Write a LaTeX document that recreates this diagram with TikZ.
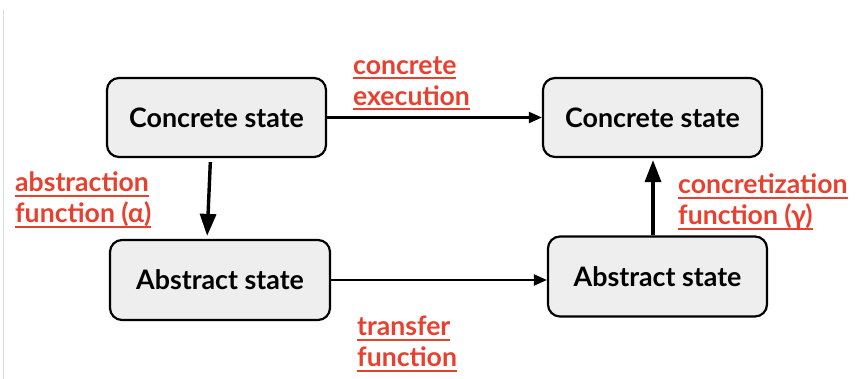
\documentclass[tikz,border=0pt]{standalone}
\usepackage{fontspec}
\setmainfont{Lato}
\usetikzlibrary{arrows.meta,calc}
\definecolor{labelred}{HTML}{E8402F}
\definecolor{boxfill}{HTML}{EEEEEE}
\definecolor{railgrey}{HTML}{DDDDDD}
% underline at a fixed depth below the baseline
\newcommand{\ulbar}[1]{\leavevmode\setbox0\hbox{#1}\rlap{\raisebox{-5pt}{\rule{\wd0}{2pt}}}\box0}
\tikzset{
  statebox/.style={draw=black, line width=2.2pt, fill=boxfill, rounded corners=12pt,
    minimum width=219pt, minimum height=79pt, inner sep=0pt,
    font=\fontsize{26.8}{30}\selectfont\bfseries},
  thinarrow/.style={line width=2.2pt, -{Triangle[length=13pt,width=11pt]}},
  thickarrow/.style={line width=3.4pt, -{Triangle[length=22pt,width=16pt]}},
  redlabel/.style={text=labelred, align=left, anchor=north west, inner sep=0pt,
    font=\fontsize{26.6}{31}\selectfont\bfseries}
}
\begin{document}
\begin{tikzpicture}[x=1pt,y=-1pt]
  \useasboundingbox (0,0) rectangle (861,379);
  % thin margin rule at the left edge
  \draw[railgrey, line width=1.5pt] (3.5,10) -- (3.5,379);

  % the four states
  \node[statebox] (c1) at (216.5,117.5) {Concrete state};
  \node[statebox] (c2) at (652.5,117.5) {Concrete state};
  \node[statebox, minimum width=220pt, minimum height=80pt] (a1) at (220,280) {Abstract state};
  \node[statebox, minimum height=80pt] (a2) at (657.5,276.5) {Abstract state};

  % transitions
  \draw[thinarrow] (c1.east) -- (c2.west);
  \draw[thinarrow] (a1.east) -- (a1.east -| a2.west);
  \draw[thickarrow, shorten <=4pt, shorten >=3pt] ([xshift=-6pt]c1.south) -- ([xshift=-13pt]a1.north);
  \draw[thickarrow, shorten >=2pt] ([xshift=-4.5pt]a2.north) -- ([xshift=-4.5pt]a2.north |- c2.south);

  % labels
  \node[redlabel] (lexec) at (353,56) {\ulbar{concrete}\\\ulbar{execution}};
  \node[redlabel] (labs) at (15,172) {\ulbar{abstraction}\\\ulbar{function (α)}};
  \node[redlabel] (lconc) at (678,174) {\ulbar{concretization}\\\ulbar{function (γ)}};
  \node[redlabel] (ltrans) at (357,316) {\ulbar{transfer}\\\ulbar{function}};
\end{tikzpicture}
\end{document}
